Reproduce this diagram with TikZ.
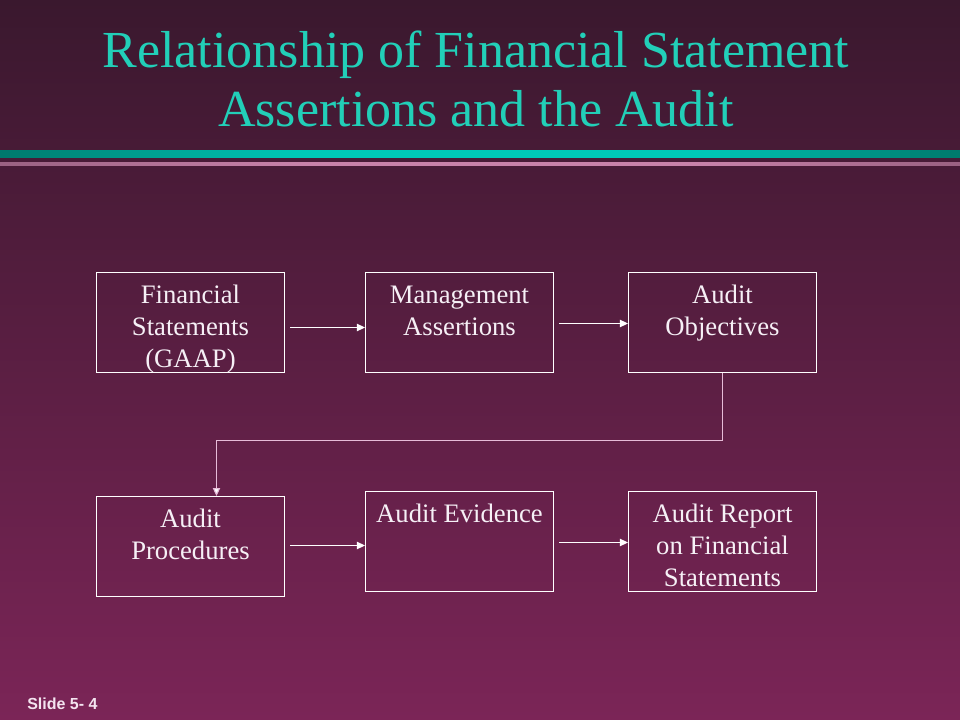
\documentclass[tikz,border=0pt]{standalone}
\usepackage{fontspec}
\setmainfont{Liberation Serif}
\newfontfamily\labelfont{Liberation Sans}
\usetikzlibrary{arrows.meta}
\definecolor{bgtop}{HTML}{3A182E}
\definecolor{bgbot}{HTML}{7B2557}
\definecolor{titlecol}{HTML}{22CFB8}
\definecolor{tealdark}{HTML}{00786C}
\definecolor{teallight}{HTML}{00C8B8}
\definecolor{pinkdark}{HTML}{9A6182}
\definecolor{pinklight}{HTML}{C882AA}
\definecolor{boxtext}{HTML}{F6F0F6}
\definecolor{linkcol}{HTML}{E6BCD8}
\definecolor{slidecol}{HTML}{F4E4F0}
\begin{document}
\begin{tikzpicture}[x=0.75pt,y=-0.75pt,
  box/.style={draw=white, line width=0.8pt, minimum width=141pt, minimum height=75pt, inner sep=0pt},
  lbl/.style={anchor=base, inner sep=0pt, text=boxtext, font=\fontsize{20pt}{24pt}\selectfont},
  arr/.style={draw=white, line width=0.8pt, -{Triangle[length=6pt,width=5.5pt]}, shorten <=3.75pt},
  ttl/.style={anchor=base, inner sep=0pt, text=titlecol, font=\fontsize{39pt}{46pt}\selectfont}]
% background
\shade[top color=bgtop, bottom color=bgbot] (0,0) rectangle (960,720);
\useasboundingbox (0,0) rectangle (960,720);
% title bars (piecewise gradient)
\foreach \i in {0,...,95} {
  \pgfmathsetmacro\p{min(100,(\i*10+5)/3,(955-\i*10)/2.6)}
  \fill[teallight!\p!tealdark] (\i*10,150) rectangle (\i*10+10.6,158);
  \fill[pinklight!\p!pinkdark] (\i*10,162) rectangle (\i*10+10.6,166);
}
% title
\node[ttl] (t1) at (476,68) {Relationship of Financial Statement};
\node[ttl] (t2) at (476,127) {Assertions and the Audit};
% boxes
\node[box] (b1) at (190.5,322.5) {};
\node[box] (b2) at (459.5,322.5) {};
\node[box] (b3) at (722.5,322.5) {};
\node[box] (b4) at (190.5,546.5) {};
\node[box] (b5) at (459.5,541.5) {};
\node[box] (b6) at (722.5,541.5) {};
% labels
\node[lbl] (l1) at ([yshift=-24pt]b1.north) {\parbox[t]{150pt}{\centering Financial\\Statements\\(GAAP)}};
\node[lbl] (l2) at ([yshift=-24pt]b2.north) {\parbox[t]{150pt}{\centering Management\\Assertions}};
\node[lbl] (l3) at ([yshift=-24pt]b3.north) {\parbox[t]{150pt}{\centering Audit\\Objectives}};
\node[lbl] (l4) at ([yshift=-24pt]b4.north) {\parbox[t]{150pt}{\centering Audit\\Procedures}};
\node[lbl] (l5) at ([yshift=-24pt]b5.north) {\parbox[t]{150pt}{\centering Audit Evidence}};
\node[lbl] (l6) at ([yshift=-24pt]b6.north) {\parbox[t]{150pt}{\centering Audit Report\\on Financial\\Statements}};
% connectors
\draw[arr] (b1.east |- 0,327.5) -- (b2.west |- 0,327.5);
\draw[arr] (b2.east |- 0,323.5) -- (b3.west |- 0,323.5);
\draw[arr] (b4.east |- 0,545.5) -- (b5.west |- 0,545.5);
\draw[arr] (b5.east |- 0,542.5) -- (b6.west |- 0,542.5);
\coordinate (c4) at (216.5,496);
\draw[line width=0.8pt, draw=linkcol, -{Triangle[length=6pt,width=5.5pt,fill=white]}] (b3.south) -- (722.5,440.5) -| (c4);
% slide label
\node[anchor=base west, inner sep=0pt, text=slidecol, font=\labelfont\bfseries\fontsize{12pt}{14pt}\selectfont] (sl) at (27,709) {Slide 5- 4};
\end{tikzpicture}
\end{document}
